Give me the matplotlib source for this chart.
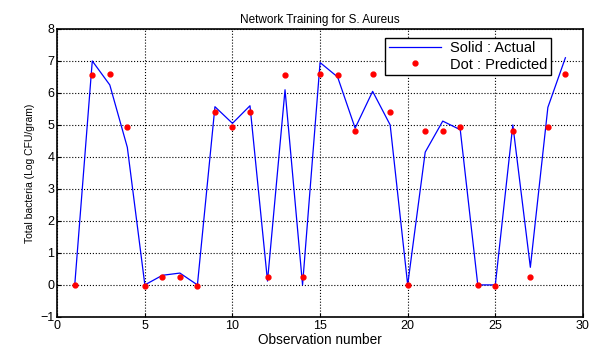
import numpy as np
import matplotlib.pyplot as plt

# observation data
obs = np.arange(1, 30)
actual = [0, 7.0, 6.25, 4.3, 0, 0.3, 0.37, 0, 5.57, 5.05,
          5.6, 0.12, 6.1, 0, 6.95, 6.5, 4.9, 6.05, 5.0, 0,
          4.15, 5.12, 4.85, 0, 0, 5.0, 0.55, 5.55, 7.1]
predicted = [0, 6.55, 6.6, 4.95, -0.02, 0.25, 0.25, -0.02, 5.4, 4.95,
             5.4, 0.25, 6.55, 0.25, 6.6, 6.55, 4.8, 6.6, 5.4, 0,
             4.8, 4.8, 4.95, 0, -0.02, 4.8, 0.25, 4.95, 6.6]

plt.rcParams['font.family'] = 'Liberation Sans'
plt.rcParams['font.size'] = 9

fig = plt.figure(figsize=(5.9, 3.49), dpi=100)
ax = fig.add_axes([0.097, 0.092, 0.891, 0.825])

ax.plot(obs, actual, color='b', lw=0.9, label='Solid : Actual')
ax.plot(obs, predicted, 'o', color='r', ms=3.5, mec='r',
        label='Dot : Predicted')

ax.set_xlim(0, 30)
ax.set_ylim(-1, 8)
ax.set_xticks(np.arange(0, 31, 5))
ax.set_yticks(np.arange(-1, 9, 1))
ax.grid(True, color='k', ls=':', lw=0.8)
ax.tick_params(direction='in', length=3, width=0.8, pad=2)
for s in ax.spines.values():
    s.set_linewidth(1.2)

ax.set_title('Network Training for S. Aureus', fontsize=8.5, pad=4)
ax.set_xlabel('Observation number', fontsize=9.8, labelpad=1)
ax.set_ylabel('Total bacteria (Log CFU/gram)', fontsize=7.5)

leg = ax.legend(loc='upper right', bbox_to_anchor=(0.953, 0.995),
                fancybox=False, framealpha=1, edgecolor='k',
                fontsize=10.5, handlelength=3.6, handletextpad=0.6,
                borderpad=0.25, labelspacing=0.15)
leg.get_frame().set_linewidth(1.0)

fig.savefig('out.png', dpi=100)
